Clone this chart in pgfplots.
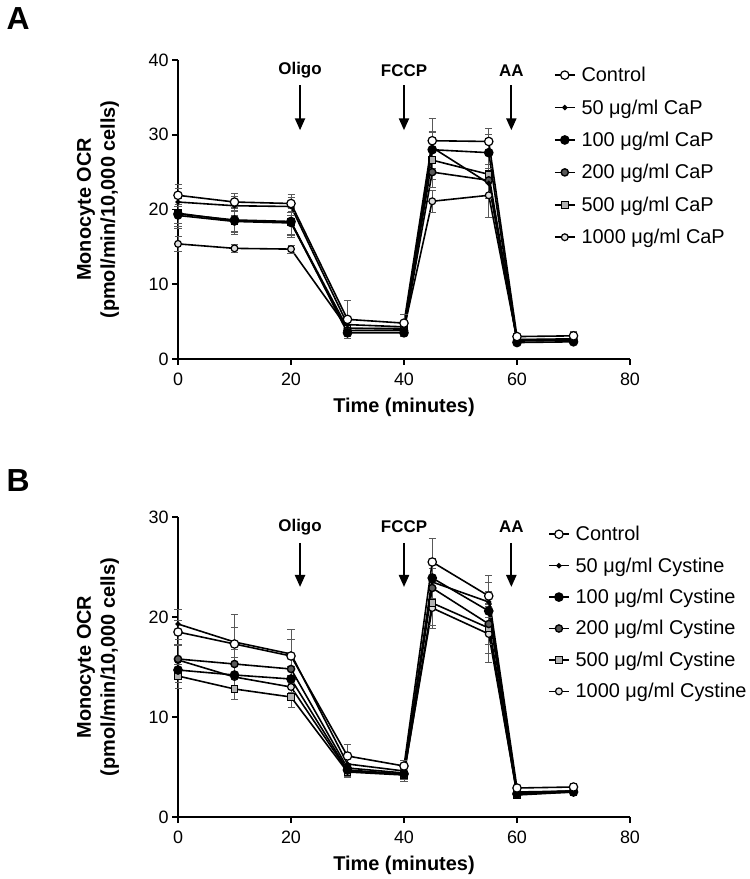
\documentclass[border=0pt]{standalone}
\usepackage{fontspec}
\setmainfont{Liberation Sans}
\usepackage{pgfplots}
\pgfplotsset{compat=1.18}
\usetikzlibrary{arrows.meta}

\tikzset{
  arr/.style={line width=2.2bp, -{Triangle[width=10bp,length=12bp]}},
  atext/.style={font=\bfseries\fontsize{17}{20}\selectfont},
}

\pgfplotsset{
  ocr/.style={
    scale only axis, width=452bp,
    xmin=0, xmax=80, ymin=0,
    xtick={0,20,40,60,80},
    axis x line*=bottom, axis y line*=left,
    axis line style={line width=1.6bp},
    tick style={line width=1.6bp, black},
    tick align=outside, major tick length=6bp,
    ticklabel style={font=\fontsize{18}{20}\selectfont},
    xticklabel style={yshift=-4bp},
    /pgf/number format/assume math mode=true,
    label style={font=\bfseries\fontsize{20}{24}\selectfont},
    xlabel={Time (minutes)},
    ylabel={Monocyte OCR\\(pmol/min/10,000 cells)},
    xlabel style={at={(axis description cs:0.5,-0.163)}, anchor=center},
    ylabel style={align=center, at={(axis description cs:-0.177,0.5)}, anchor=center},
    clip=false,
    reverse legend,
    legend cell align=left,
    legend style={draw=none, fill=none, anchor=north west,
      font=\fontsize{20}{24}\selectfont,
      /tikz/every odd column/.append style={column sep=4bp}},
    legend image code/.code={\draw[mark repeat=2,mark phase=2] plot coordinates {(0cm,0cm)(0.35cm,0cm)(0.7cm,0cm)};},
    every axis plot/.append style={line width=1.6bp, black},
  },
  eb/.style={error bars/y dir=both, error bars/y explicit,
    error bars/error bar style={line width=0.6bp, gray!70!black},
    error bars/error mark options={rotate=90, mark size=3.5bp, line width=0.6bp, gray!70!black}},
  sctrl/.style={eb, mark=*, mark size=4.2bp, mark options={fill=white, draw=black, line width=1.2bp}},
  s50/.style={eb, mark=*, mark size=1.8bp, mark options={fill=black}},
  s100/.style={eb, mark=*, mark size=4bp, mark options={fill=black}},
  s200/.style={eb, mark=*, mark size=3.6bp, mark options={fill=gray!70!black, draw=black, line width=1.4bp}},
  s500/.style={eb, mark=square*, mark size=3.3bp, mark options={fill=gray!60, draw=black, line width=1.2bp}},
  s1000/.style={eb, mark=*, mark size=3.4bp, mark options={fill=gray!25, draw=black, line width=1.2bp}},
}

\begin{document}
\begin{tikzpicture}
\useasboundingbox (0,0) rectangle (750bp,879bp);

% ---------------- panel A: CaP
\begin{axis}[ocr, at={(178bp,520bp)}, anchor=south west, height=299bp,
  ymax=40, ytick={0,10,20,30,40},
  legend style={at={(rel axis cs:0.825,0.99)}, row sep=12.5bp}]
\addplot[s1000] coordinates {
  (0,15.4) +- (0,1.0) (10,14.8) +- (0,0.5) (20,14.7) +- (0,0.5)
  (30,4.1) +- (0,0.5) (40,4.0) +- (0,0.5) (45,21.1) +- (0,1.5)
  (55,21.9) +- (0,3.0) (60,2.6) +- (0,0.4) (70,2.7) +- (0,0.4)};
\addlegendentry{1000 μg/ml CaP}
\addplot[s500] coordinates {
  (0,19.5) +- (0,2.0) (10,18.5) +- (0,1.8) (20,18.3) +- (0,2.0)
  (30,4.1) +- (0,0.6) (40,4.1) +- (0,0.6) (45,26.6) +- (0,2.5)
  (55,24.7) +- (0,3.0) (60,2.5) +- (0,0.4) (70,2.5) +- (0,0.4)};
\addlegendentry{500 μg/ml CaP}
\addplot[s200] coordinates {
  (0,19.2) +- (0,1.5) (10,18.4) +- (0,1.5) (20,18.2) +- (0,1.5)
  (30,3.8) +- (0,0.5) (40,3.8) +- (0,0.5) (45,25.0) +- (0,2.0)
  (55,23.9) +- (0,2.2) (60,2.4) +- (0,0.3) (70,2.5) +- (0,0.3)};
\addlegendentry{200 μg/ml CaP}
\addplot[s100] coordinates {
  (0,19.4) +- (0,1.3) (10,18.6) +- (0,1.5) (20,18.4) +- (0,1.8)
  (30,3.5) +- (0,0.5) (40,3.5) +- (0,0.5) (45,28.0) +- (0,2.5)
  (55,27.6) +- (0,2.5) (60,2.2) +- (0,0.3) (70,2.3) +- (0,0.3)};
\addlegendentry{100 μg/ml CaP}
\addplot[s50] coordinates {
  (0,21.0) +- (0,1.8) (10,20.5) +- (0,1.3) (20,20.4) +- (0,1.2)
  (30,4.6) +- (0,1.0) (40,4.3) +- (0,0.6) (45,28.3) +- (0,2.0)
  (55,23.5) +- (0,2.0) (60,2.6) +- (0,0.4) (70,2.6) +- (0,0.4)};
\addlegendentry{50 μg/ml CaP}
\addplot[sctrl] coordinates {
  (0,21.9) +- (0,1.5) (10,21.0) +- (0,1.2) (20,20.8) +- (0,1.2)
  (30,5.3) +- (0,2.5) (40,4.8) +- (0,1.2) (45,29.2) +- (0,3.0)
  (55,29.1) +- (0,1.8) (60,3.0) +- (0,0.5) (70,3.1) +- (0,0.6)};
\addlegendentry{Control}
\draw[arr] (axis cs:21.6,36.6) -- (axis cs:21.6,30.6);
\node[atext] at (axis cs:21.6,38.6) {Oligo};
\draw[arr] (axis cs:40,36.6) -- (axis cs:40,30.6);
\node[atext] at (axis cs:40,38.6) {FCCP};
\draw[arr] (axis cs:59,36.6) -- (axis cs:59,30.6);
\node[atext] at (axis cs:59,38.6) {AA};
\end{axis}

% ---------------- panel B: Cystine
\begin{axis}[ocr, at={(178bp,62bp)}, anchor=south west, height=300bp,
  ymax=30, ytick={0,10,20,30},
  xlabel style={at={(axis description cs:0.5,-0.16)}},
  legend style={at={(rel axis cs:0.812,0.983)}, row sep=11.5bp}]
\addplot[s1000] coordinates {
  (0,15.7) +- (0,1.5) (10,14.0) +- (0,1.3) (20,13.0) +- (0,1.2)
  (30,4.6) +- (0,0.5) (40,4.3) +- (0,0.5) (45,20.9) +- (0,2.0)
  (55,18.3) +- (0,2.8) (60,2.4) +- (0,0.3) (70,2.6) +- (0,0.3)};
\addlegendentry{1000 μg/ml Cystine}
\addplot[s500] coordinates {
  (0,14.1) +- (0,1.2) (10,12.8) +- (0,1.0) (20,12.0) +- (0,1.0)
  (30,4.5) +- (0,0.5) (40,4.2) +- (0,0.6) (45,21.4) +- (0,2.2)
  (55,18.9) +- (0,2.5) (60,2.2) +- (0,0.3) (70,2.5) +- (0,0.3)};
\addlegendentry{500 μg/ml Cystine}
\addplot[s200] coordinates {
  (0,15.8) +- (0,1.5) (10,15.3) +- (0,1.5) (20,14.8) +- (0,1.5)
  (30,4.9) +- (0,0.5) (40,4.4) +- (0,0.5) (45,22.9) +- (0,2.0)
  (55,19.3) +- (0,2.0) (60,2.4) +- (0,0.3) (70,2.6) +- (0,0.3)};
\addlegendentry{200 μg/ml Cystine}
\addplot[s100] coordinates {
  (0,14.7) +- (0,1.2) (10,14.2) +- (0,1.2) (20,13.8) +- (0,1.3)
  (30,4.7) +- (0,0.5) (40,4.3) +- (0,0.5) (45,23.9) +- (0,2.0)
  (55,20.6) +- (0,2.0) (60,2.3) +- (0,0.3) (70,2.5) +- (0,0.3)};
\addlegendentry{100 μg/ml Cystine}
\addplot[s50] coordinates {
  (0,19.3) +- (0,1.5) (10,17.5) +- (0,1.5) (20,16.3) +- (0,1.5)
  (30,5.3) +- (0,0.8) (40,4.6) +- (0,0.5) (45,23.5) +- (0,2.0)
  (55,21.5) +- (0,2.0) (60,2.5) +- (0,0.3) (70,2.6) +- (0,0.3)};
\addlegendentry{50 μg/ml Cystine}
\addplot[sctrl] coordinates {
  (0,18.5) +- (0,1.2) (10,17.3) +- (0,3.0) (20,16.1) +- (0,2.7)
  (30,6.1) +- (0,1.2) (40,5.1) +- (0,0.6) (45,25.5) +- (0,2.4)
  (55,22.1) +- (0,2.1) (60,2.9) +- (0,0.3) (70,3.0) +- (0,0.4)};
\addlegendentry{Control}
\draw[arr] (axis cs:21.6,27.4) -- (axis cs:21.6,23.0);
\node[atext] at (axis cs:21.6,29.0) {Oligo};
\draw[arr] (axis cs:40,27.4) -- (axis cs:40,23.0);
\node[atext] at (axis cs:40,29.0) {FCCP};
\draw[arr] (axis cs:59,27.4) -- (axis cs:59,23.0);
\node[atext] at (axis cs:59,29.0) {AA};
\end{axis}

\node[anchor=base west, font=\bfseries\fontsize{32}{36}\selectfont] at (3bp,849bp) {A};
\node[anchor=base west, font=\bfseries\fontsize{32}{36}\selectfont] at (3bp,387bp) {B};
\end{tikzpicture}
\end{document}
